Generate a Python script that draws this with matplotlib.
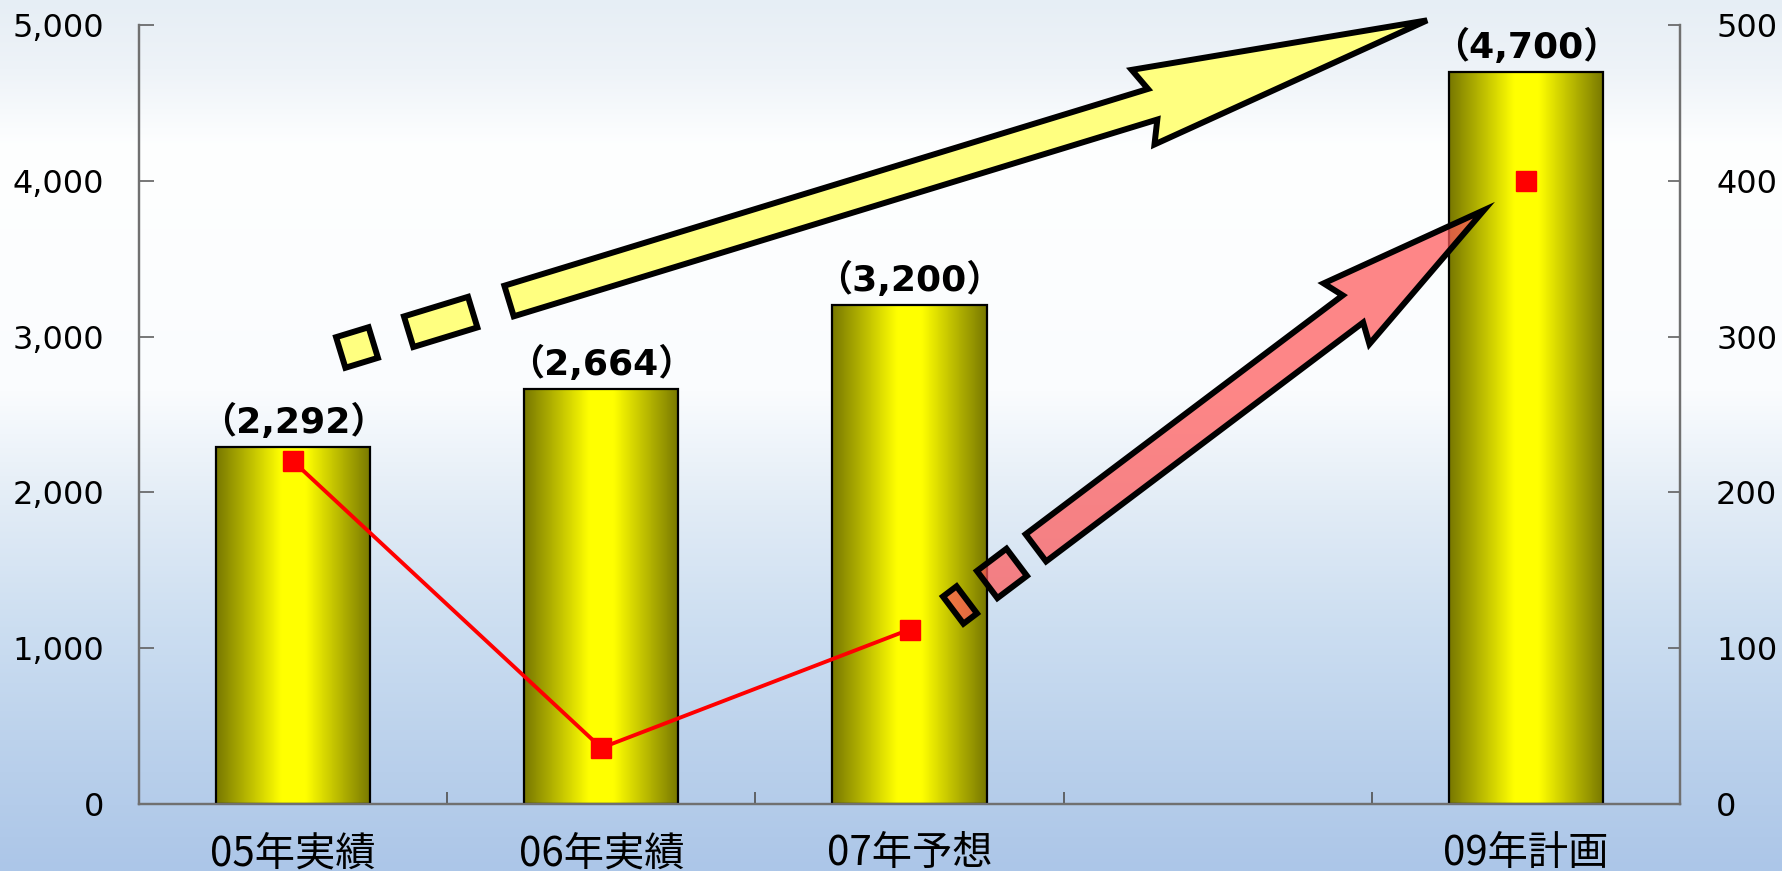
import numpy as np
import matplotlib
matplotlib.use('Agg')
import matplotlib.pyplot as plt
from matplotlib.patches import Rectangle, Polygon
from matplotlib.colors import LinearSegmentedColormap
from matplotlib.ticker import FuncFormatter

W, H = 1783, 871

categories = ['05年実績', '06年実績', '07年予想', '', '09年計画']
bar_values = [2292, 2664, 3200, None, 4700]
bar_labels = ['（2,292）', '（2,664）', '（3,200）', '', '（4,700）']
line_values = [220, 36, 112]        # right axis, 05-07
plan_point = 400                    # right axis, 09 (not connected)

fig = plt.figure(figsize=(W / 100, H / 100), dpi=100)

# sky-like background
bg = fig.add_axes([0, 0, 1, 1], zorder=-10)
ys = np.linspace(0, 1, 400)
stops_y = [0.0, 0.08, 0.17, 0.45, 0.58, 0.72, 0.85, 1.0]
stops_r = [230, 238, 254, 250, 226, 204, 188, 172]
stops_g = [238, 243, 255, 252, 236, 222, 210, 198]
stops_b = [245, 248, 255, 254, 246, 241, 236, 232]
col = np.stack([np.interp(ys, stops_y, stops_r),
                np.interp(ys, stops_y, stops_g),
                np.interp(ys, stops_y, stops_b)], axis=1) / 255.0
img = np.repeat(col[:, None, :], 50, axis=1)
bg.imshow(img, aspect='auto', extent=[0, 1, 1, 0])
bg.set_axis_off()

ax = fig.add_axes([139 / W, 1 - 804 / H, (1680 - 139) / W, (804 - 25) / H])
ax.patch.set_alpha(0)
ax2 = ax.twinx()

bar_cmap = LinearSegmentedColormap.from_list(
    'bar', [(0.0, (0.47, 0.47, 0.0)), (0.2, (0.72, 0.72, 0.0)),
            (0.42, (1.0, 1.0, 0.0)), (0.58, (1.0, 1.0, 0.0)),
            (0.8, (0.72, 0.72, 0.0)), (1.0, (0.47, 0.47, 0.0))])
grad = np.linspace(0, 1, 256)[None, :]

x = np.arange(len(categories))
bw = 0.5
for i, v in enumerate(bar_values):
    if v is None:
        continue
    ax.imshow(grad, cmap=bar_cmap, aspect='auto',
              extent=[i - bw / 2, i + bw / 2, 0, v], zorder=2)
    ax.add_patch(Rectangle((i - bw / 2, 0), bw, v, fill=False,
                           ec='black', lw=1.6, zorder=3))
    ax.annotate(bar_labels[i], (i, v), xytext=(0, 5), textcoords='offset points',
                ha='center', va='bottom', fontsize=26, fontweight='bold',
                family=['DejaVu Sans', 'Noto Sans CJK JP'], zorder=4)

ax.set_xlim(-0.5, 4.5)
ax.set_ylim(0, 5000)
ax.set_yticks(np.arange(0, 5001, 1000))
ax.yaxis.set_major_formatter(FuncFormatter(lambda v, p: f'{int(v):,}'))
ax.set_xticks(x)
ax.set_xticklabels(categories)
ax.set_xticks(np.arange(0.5, 4.5, 1.0), minor=True)
ax.tick_params(axis='x', which='major', length=0, pad=21, labelsize=29,
               labelfontfamily='Noto Sans CJK JP')
ax.tick_params(axis='x', which='minor', direction='in', length=9, width=1.2, color='#505050')
ax.tick_params(axis='y', direction='in', length=11, width=1.2, color='#606060',
               labelsize=23, pad=25, labelfontfamily='DejaVu Sans')

ax2.plot(x[:3], line_values, color='red', lw=2.8, marker='s', ms=14,
         mfc='red', mec='red', zorder=5)
ax2.plot([x[4]], [plan_point], ls='none', marker='s', ms=14, mfc='red', mec='red', zorder=5)
ax2.set_ylim(0, 500)
ax2.set_yticks(np.arange(0, 501, 100))
ax2.tick_params(axis='y', direction='in', length=9, width=1.2, color='#606060',
                labelsize=23, pad=26, labelfontfamily='DejaVu Sans')

for a in (ax, ax2):
    a.spines['top'].set_visible(False)
    for s in ('left', 'right', 'bottom'):
        a.spines[s].set_color('#707070')
        a.spines[s].set_linewidth(1.6)


def arrow_poly(sx, sy, ang, dashes, shaft_start, notch, head_base, tip, hw, hh):
    a = np.radians(ang)
    d = np.array([np.cos(a), -np.sin(a)])
    n = np.array([np.sin(a), np.cos(a)])
    s0 = np.array([sx, sy])
    pt = lambda t, s: s0 + t * d + s * n
    polys = []
    for t0, t1 in dashes:
        polys.append([pt(t0, -hw), pt(t1, -hw), pt(t1, hw), pt(t0, hw)])
    polys.append([pt(shaft_start, -hw), pt(notch, -hw), pt(head_base, -hh), pt(tip, 0),
                  pt(head_base, hh), pt(notch, hw), pt(shaft_start, hw)])
    out = []
    for p in polys:
        p = np.array(p)
        out.append(np.column_stack([p[:, 0] / W, 1 - p[:, 1] / H]))
    return out


yellow = arrow_poly(357, 347.5, 17.0, [(-17, 17), (54, 121)], 159, 832, 822, 1119, 16, 39)
for p in yellow:
    fig.add_artist(Polygon(p, closed=True, transform=fig.transFigure, fc='#FFFF80',
                           ec='black', lw=4.3, joinstyle='miter', zorder=6))

pink = arrow_poly(960, 605, 37.0, [(-8.5, 8.5), (34, 71)], 95, 492, 484, 656, 17, 38)
for p in pink:
    fig.add_artist(Polygon(p, closed=True, transform=fig.transFigure, fc=(1.0, 0.35, 0.35, 0.72),
                           ec='black', lw=4.3, joinstyle='miter', zorder=6))

fig.savefig('out.png', dpi=100)
